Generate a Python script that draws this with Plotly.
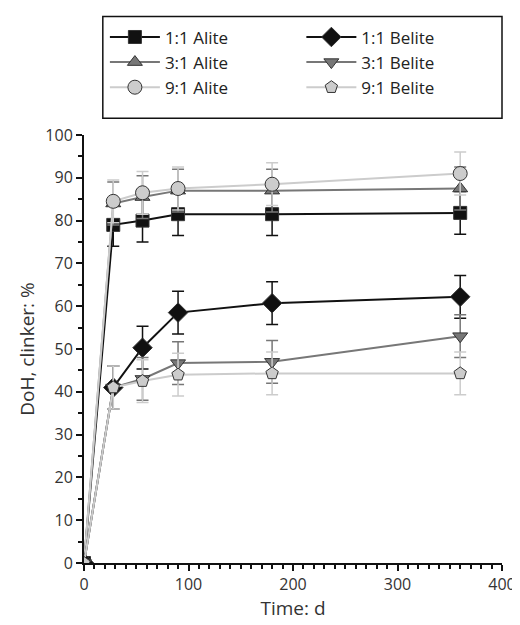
import plotly.graph_objects as go

time_d = [0, 28, 56, 90, 180, 360]
alite_11 = [0, 79, 80, 81.5, 81.5, 81.8]
alite_31 = [0, 84, 85.5, 87, 87, 87.5]
alite_91 = [0, 84.5, 86.5, 87.5, 88.5, 91]
belite_11 = [0, 41, 50.3, 58.5, 60.7, 62.2]
belite_31 = [0, 41, 43, 46.7, 47, 53]
belite_91 = [0, 41, 42.5, 44, 44.3, 44.3]
err = [0, 5, 5, 5, 5, 5]

series = [
    ("1:1 Alite", alite_11, "#111111", "square", 13, "legend"),
    ("3:1 Alite", alite_31, "#777777", "triangle-up", 13, "legend"),
    ("9:1 Alite", alite_91, "#cccccc", "circle", 14, "legend"),
    ("1:1 Belite", belite_11, "#111111", "diamond", 15, "legend2"),
    ("3:1 Belite", belite_31, "#777777", "triangle-down", 13, "legend2"),
    ("9:1 Belite", belite_91, "#cccccc", "pentagon", 13, "legend2"),
]

fig = go.Figure()
for name, y, lc, sym, sz, lg in series:
    fig.add_trace(go.Scatter(
        x=time_d, y=y, name=name, mode="lines+markers", legend=lg,
        line=dict(color=lc, width=2),
        marker=dict(symbol=sym, size=sz, color=lc, line=dict(color="#333333", width=1)),
        error_y=dict(type="data", array=err, color=lc, thickness=1.5, width=6),
    ))

legfont = dict(size=17, color="#222222")
fig.update_layout(
    width=520, height=625,
    margin=dict(l=76, r=20, t=122, b=70),
    plot_bgcolor="white", paper_bgcolor="white",
    font=dict(family="Open Sans", size=16, color="#333333"),
    showlegend=True,
    legend=dict(x=0.05, y=1.27, xanchor="left", yanchor="top", font=legfont,
                bgcolor="rgba(0,0,0,0)", itemwidth=50),
    legend2=dict(x=0.52, y=1.27, xanchor="left", yanchor="top", font=legfont,
                 bgcolor="rgba(0,0,0,0)", itemwidth=50),
    shapes=[dict(type="rect", xref="paper", yref="paper", x0=0.045, x1=1.0,
                 y0=1.039, y1=1.277, line=dict(color="#111111", width=1.5))],
    xaxis=dict(range=[0, 400], dtick=100, showline=True, linecolor="#111111", linewidth=2,
               ticks="outside", ticklen=6, tickwidth=1.5, tickcolor="#111111",
               minor=dict(dtick=10, ticks="outside", ticklen=4, tickcolor="#111111"),
               showgrid=False, zeroline=False,
               title=dict(text="Time: d", standoff=4)),
    yaxis=dict(range=[0, 100], dtick=10, showline=True, linecolor="#111111", linewidth=2,
               ticks="outside", ticklen=6, tickwidth=1.5, tickcolor="#111111",
               minor=dict(dtick=5, ticks="outside", ticklen=4, tickcolor="#111111"),
               showgrid=False, zeroline=False,
               title=dict(text="DoH, clinker: %", standoff=6)),
)
fig.write_html("out.html")
